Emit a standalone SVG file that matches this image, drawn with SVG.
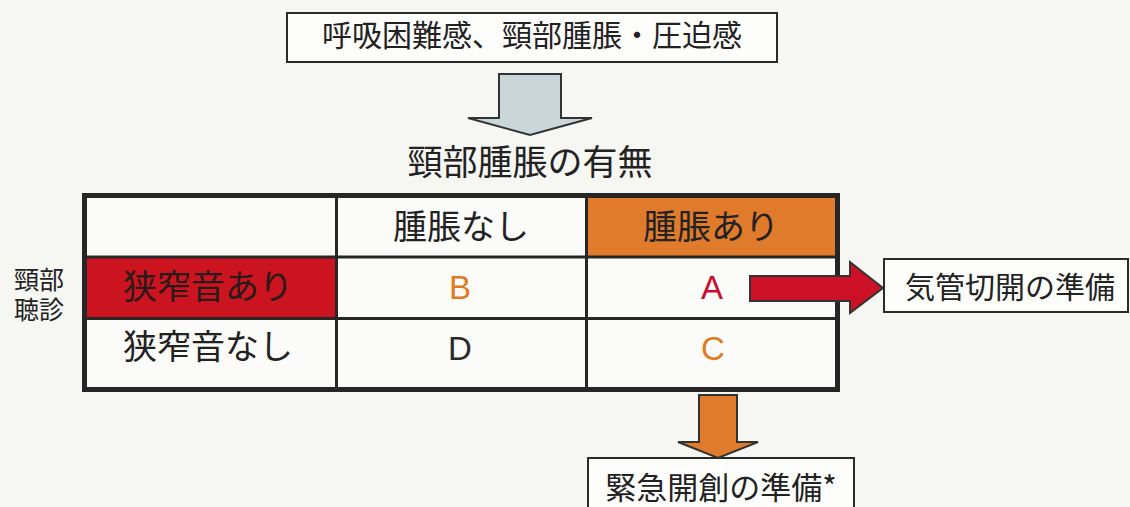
<svg xmlns="http://www.w3.org/2000/svg" width="1130" height="507" viewBox="0 0 1130 507">
<defs>
<style>
.jp{font-family:"Noto Sans CJK JP","Noto Sans CJK SC",sans-serif;fill:#222;text-anchor:middle}
.side{font-family:"Liberation Sans","Noto Sans CJK JP",sans-serif;fill:#222;text-anchor:middle;font-size:25px}
.lat{font-family:"Liberation Sans",Arial,sans-serif;text-anchor:middle;font-size:33px}
.box{fill:#fdfdfc;stroke:#2a2a2a;stroke-width:2}
.grid{stroke:#262626;stroke-width:3;fill:none}
.arrow{stroke:#333;stroke-width:2;stroke-linejoin:miter}
</style>
</defs>
<rect width="1130" height="507" fill="#f6f6f3"/>

<g id="top-box">
<rect class="box" x="287" y="13" width="490" height="49"/>
<text class="jp" x="532" y="46" font-size="30">呼吸困難感、頸部腫脹・圧迫感</text>
</g>

<g id="title">
<text class="jp" x="530" y="175" font-size="35">頸部腫脹の有無</text>
</g>

<g id="table">
<rect x="85" y="196" width="753" height="194" fill="#fbfbfa"/>
<rect x="587" y="198" width="249" height="59" fill="#e07b2c"/>
<rect x="87" y="258" width="248" height="60" fill="#cc1420"/>
<line class="grid" x1="336.5" y1="196" x2="336.5" y2="390"/>
<line class="grid" x1="586.5" y1="196" x2="586.5" y2="390"/>
<line class="grid" x1="85" y1="257" x2="838" y2="257"/>
<line class="grid" x1="85" y1="318.5" x2="838" y2="318.5"/>
<rect x="84.5" y="195.5" width="753" height="194" fill="none" stroke="#262626" stroke-width="5"/>
<text class="jp" x="461" y="239" font-size="34">腫脹なし</text>
<text class="jp" x="711" y="239" font-size="34">腫脹あり</text>
<text class="jp" x="208" y="299" font-size="34" style="fill:#2a1a1a">狭窄音あり</text>
<text class="jp" x="208" y="359" font-size="34">狭窄音なし</text>
<text class="lat" x="460" y="299" fill="#e07b1e">B</text>
<text class="lat" x="712" y="299" fill="#c8102e">A</text>
<text class="lat" x="460" y="360" fill="#2a2a2a">D</text>
<text class="lat" x="713" y="360" fill="#e07b1e">C</text>
</g>

<g id="side-label">
<text class="side"><tspan x="39" y="289">頸部</tspan><tspan x="39" y="319">聴診</tspan></text>
</g>

<g id="box-tracheotomy">
<rect class="box" x="884" y="259" width="244" height="53"/>
<text class="jp" x="1010" y="298" font-size="30">気管切開の準備</text>
</g>

<g id="box-surgery">
<rect class="box" x="588" y="458" width="266" height="60"/>
<text class="jp" x="721" y="499" font-size="31">緊急開創の準備*</text>
</g>

<g id="connectors">
<polygon class="arrow" fill="#c9d7d9" points="499,74 561,74 561,118 592,118 530,135 468,118 499,118"/>
<polygon class="arrow" fill="#cc1026" points="750,276 850,276 850,262 883,288 850,313 850,301 750,301"/>
<polygon class="arrow" fill="#e07b2c" points="699,395 737,395 737,442 758,442 718,458 678,442 699,442"/>
</g>
</svg>
